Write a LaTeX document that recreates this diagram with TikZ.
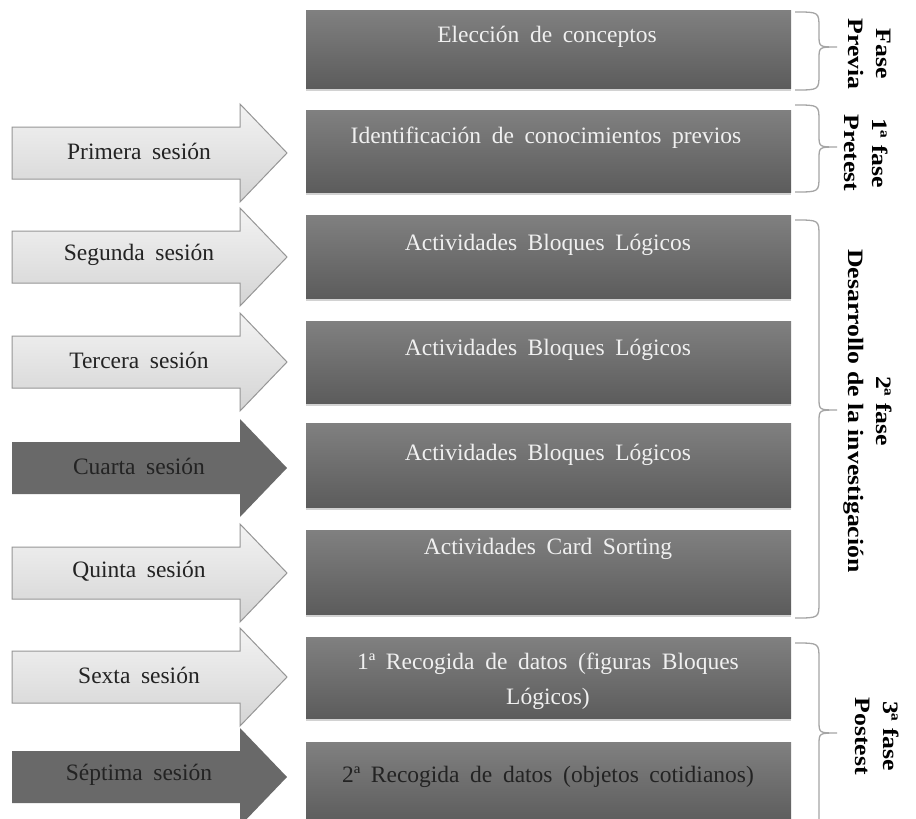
\documentclass[tikz,border=0pt]{standalone}
\usepackage{fontspec}
\setmainfont{Liberation Serif}
\usepackage{graphicx}
\usetikzlibrary{shadows}
\definecolor{boxtop}{RGB}{128,128,128}
\definecolor{boxbot}{RGB}{92,92,92}
\definecolor{lighttop}{RGB}{243,243,243}
\definecolor{lightbot}{RGB}{212,212,212}
\definecolor{lightedge}{RGB}{150,150,150}
\definecolor{darkarrow}{RGB}{105,105,105}
\definecolor{bracecol}{RGB}{165,165,165}
\definecolor{lighttext}{RGB}{240,240,240}
\definecolor{darktext}{RGB}{35,35,35}
\newcommand{\stretchtxt}[1]{\scalebox{1.17}[1]{#1}}
\newcommand{\widespaces}{\spaceskip=0.45em plus 0.1em}
\newcommand{\sesarrow}[4]{%
  \draw[#3] (12,#2-26) -- (240,#2-26) -- (240,#2-49) -- (287,#2) -- (240,#2+49) -- (240,#2+26) -- (12,#2+26) -- cycle;
  \node[arrtext] (#1) at (139,#2-2) {#4};}
\newcommand{\phasebrace}[3]{%
  \draw[phbrace] (795,#1) .. controls (819,#1) .. (819,#1+16) -- (819,#2-12) .. controls (819,#2) .. (837,#2) .. controls (819,#2) .. (819,#2+12) -- (819,#3-16) .. controls (819,#3) .. (795,#3);}
\begin{document}
\begin{tikzpicture}[x=1pt,y=-1pt,
  box/.style={rectangle, minimum width=485pt, inner sep=0pt, top color=boxtop, bottom color=boxbot, draw=none,
    drop shadow={shadow xshift=0pt, shadow yshift=-2.5pt, opacity=0.35}},
  boxtext/.style={font=\fontsize{23.5}{35}\selectfont\widespaces, text=lighttext, align=center, inner sep=0pt},
  arrtext/.style={font=\fontsize{23.5}{28}\selectfont\widespaces, text=darktext, inner sep=0pt},
  lightarrow/.style={draw=lightedge, line width=1pt, top color=lighttop, bottom color=lightbot},
  darkarrowst/.style={fill=darkarrow, draw=none},
  phbrace/.style={draw=bracecol, line width=1.3pt},
  lab/.style={font=\bfseries\fontsize{22}{28}\selectfont, text=black, align=center, rotate=-90, inner sep=0pt}]
\useasboundingbox (0,0) rectangle (916,819);
\fill[white] (0,0) rectangle (916,819);
\clip (0,0) rectangle (916,819);

% boxes
\node[box, minimum height=78pt] (b1) at (548.5,49) {};
\node[box, minimum height=82pt] (b2) at (548.5,151) {};
\node[box, minimum height=83pt] (b3) at (548.5,256.5) {};
\node[box, minimum height=82pt] (b4) at (548.5,362) {};
\node[box, minimum height=84pt] (b5) at (548.5,465) {};
\node[box, minimum height=84pt] (b6) at (548.5,572) {};
\node[box, minimum height=81pt] (b7) at (548.5,677.5) {};
\node[box, minimum height=82pt] (b8) at (548.5,783) {};

\node[boxtext] (t1) at (547,37) {Elección de conceptos};
\node[boxtext] (t2) at (546,138) {Identificación de conocimientos previos};
\node[boxtext] (t3) at (548,245) {Actividades Bloques Lógicos};
\node[boxtext] (t4) at (548,350) {Actividades Bloques Lógicos};
\node[boxtext] (t5) at (548,455) {Actividades Bloques Lógicos};
\node[boxtext] (t6) at (548,549) {Actividades Card Sorting};
\node[boxtext] (t7) at (548,681) {1ª Recogida de datos (figuras Bloques\\Lógicos)};
\node[boxtext, text=darktext] (t8) at (548,777) {2ª Recogida de datos (objetos cotidianos)};

% session arrows
\sesarrow{s1}{153}{lightarrow}{Primera sesión}
\sesarrow{s2}{257}{lightarrow}{Segunda sesión}
\sesarrow{s3}{362}{lightarrow}{Tercera sesión}
\sesarrow{s4}{468}{darkarrowst}{Cuarta sesión}
\sesarrow{s5}{573}{lightarrow}{Quinta sesión}
\sesarrow{s6}{677}{lightarrow}{Sexta sesión}
\sesarrow{s7}{777}{darkarrowst}{Séptima sesión}

% phase braces
\phasebrace{12}{47}{90}
\phasebrace{105}{147}{192}
\phasebrace{220}{410}{618}
\phasebrace{643}{733}{850}

% phase labels
\node[lab] (l1) at (870,54) {\stretchtxt{Fase}\\\stretchtxt{Previa}};
\node[lab] (l2) at (866,153) {\stretchtxt{1ª fase}\\\stretchtxt{Pretest}};
\node[lab] (l3) at (868,411) {\stretchtxt{2ª fase}\\\stretchtxt{Desarrollo de la investigación}};
\node[lab] (l4) at (877,736) {\stretchtxt{3ª fase}\\\stretchtxt{Postest}};
\end{tikzpicture}
\end{document}
